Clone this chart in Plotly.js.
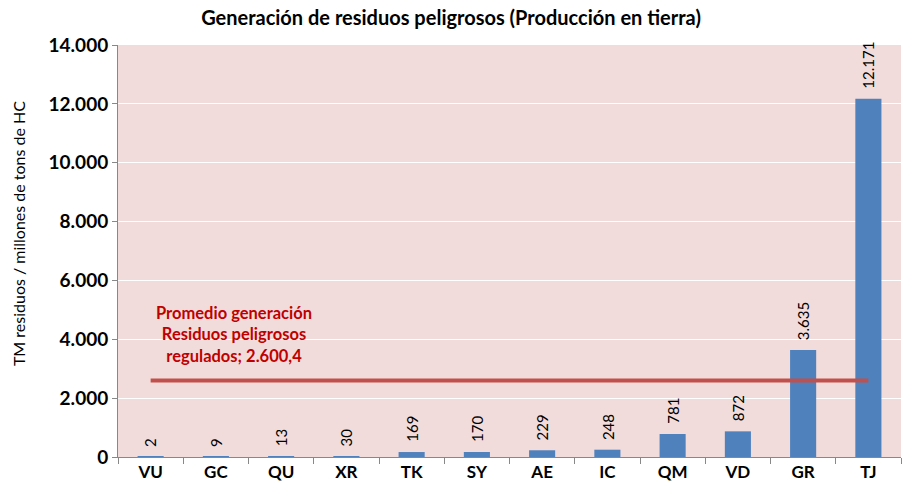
<!DOCTYPE html>
<html><head><meta charset="utf-8">
<script src="https://cdn.plot.ly/plotly-3.0.1.min.js"></script>
<style>html,body{margin:0;padding:0;background:#fff}#c{width:902px;height:493px}</style>
</head><body><div id="c"></div>
<script>
const categories = ["VU","GC","QU","XR","TK","SY","AE","IC","QM","VD","GR","TJ"];
const values = [2,9,13,30,169,170,229,248,781,872,3635,12171];
const average = 2600.4;
const avgLabel = "2.600,4";
const avgValues = categories.map(() => average);
const yTicks = [0,2000,4000,6000,8000,10000,12000,14000];

function fmt(v){ return String(v).replace(/\B(?=(\d{3})+(?!\d))/g, '.'); }

const font = "Lato, 'Open Sans', sans-serif";
const data = [
  {type:'bar', x:categories, y:values, marker:{color:'#4f81bd'}, hoverinfo:'x+y'},
  {type:'scatter', mode:'lines', x:categories, y:avgValues,
   line:{color:'#c0504d', width:4}, hoverinfo:'y'}
];
const valueAnnotations = categories.map((c, i) => ({
  xref:'x', yref:'y', x:c, y:values[i], text:fmt(values[i]), textangle:-90,
  showarrow:false, xanchor:'center', yanchor:'bottom', yshift:8,
  font:{family:font, size:15, color:'#000'}
}));
const layout = {
  width:902, height:493, separators:',.',
  margin:{l:118, r:1, t:45, b:36},
  paper_bgcolor:'#fff', plot_bgcolor:'#f2dcdb',
  showlegend:false, bargap:0.6,
  title:{text:'<b>Generación de residuos peligrosos (Producción en tierra)</b>',
    font:{family:font, size:20, color:'#000'}, x:0.5, xanchor:'center', y:0.963, yanchor:'middle'},
  xaxis:{type:'category', showline:true, linecolor:'#888', linewidth:1,
    ticks:'outside', ticklen:6, tickcolor:'#888', tickson:'boundaries',
    tickfont:{family:font, size:17, color:'#000', weight:'bold'}, showgrid:false},
  yaxis:{range:[0,14000], tickvals:yTicks, tickformat:',d', showline:true, linecolor:'#888',
    ticks:'outside', ticklen:5, tickcolor:'#888', gridcolor:'#fff', gridwidth:1,
    zeroline:false,
    tickfont:{family:font, size:19, color:'#000', weight:'bold'}},
  annotations:[
    {xref:'paper', yref:'paper', x:0, xshift:-100, y:0.541, text:'TM residuos / millones de tons de HC',
     textangle:-90, showarrow:false, xanchor:'center', yanchor:'middle',
     font:{family:font, size:16, color:'#000'}},
    {xref:'x', yref:'y', x:1.28, y:4150,
    text:'<b>Promedio generación<br>Residuos peligrosos<br>regulados; ' + avgLabel + '</b>',
    showarrow:false, font:{family:font, size:16.5, color:'#c00000'}, align:'center', xanchor:'center', yanchor:'middle'}]
    .concat(valueAnnotations)
};
Plotly.newPlot('c', data, layout, {displayModeBar:false});
</script></body></html>
